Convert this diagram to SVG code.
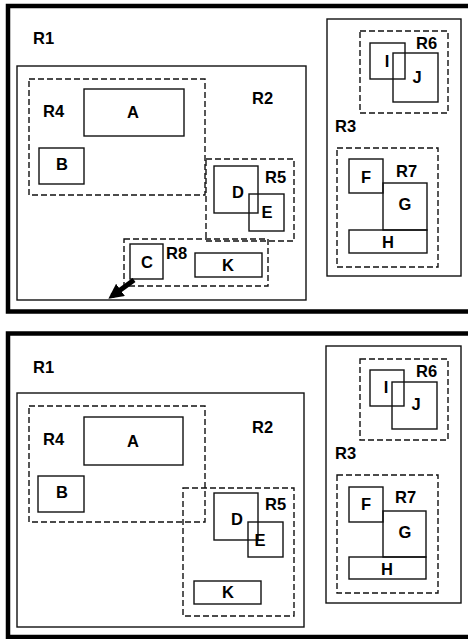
<svg xmlns="http://www.w3.org/2000/svg" width="468" height="639" viewBox="0 0 468 639">
<defs>
<style>
.frame{fill:none;stroke:#000;stroke-width:4.5}
.box{fill:none;stroke:#111;stroke-width:1.4}
.dash{fill:none;stroke:#111;stroke-width:1.4;stroke-dasharray:6 3}
.lbl{font-family:"Liberation Sans","DejaVu Sans",sans-serif;font-weight:bold;font-size:16.5px;fill:#000}
.c{text-anchor:middle}
</style>
<marker id="ah" viewBox="0 0 10 10" refX="7" refY="5" markerWidth="3" markerHeight="3" orient="auto" markerUnits="strokeWidth">
<path d="M0,0 L10,5 L0,10 Z" fill="#000"/>
</marker>
</defs>
<rect width="468" height="639" fill="#fff"/>

<!-- Top panel -->
<g id="top-panel">
<path class="frame" d="M470 6 H8 V311.5 H470"/>
<g id="t-R1"><text class="lbl" x="33" y="44">R1</text></g>
<g id="t-R2"><rect class="box" x="17" y="66" width="289" height="234"/><text class="lbl" x="252" y="104">R2</text></g>
<g id="t-R4"><rect class="dash" x="29" y="79" width="176" height="116"/><text class="lbl" x="43" y="117">R4</text></g>
<g id="t-A"><rect class="box" x="84" y="89" width="100" height="47"/><text class="lbl c" x="133" y="118">A</text></g>
<g id="t-B"><rect class="box" x="39" y="148" width="45" height="36"/><text class="lbl c" x="62" y="170">B</text></g>
<g id="t-R5"><rect class="dash" x="206" y="159" width="88" height="82"/><text class="lbl" x="265" y="183">R5</text></g>
<g id="t-D"><rect class="box" x="214" y="166" width="44" height="47"/><text class="lbl c" x="238" y="198">D</text></g>
<g id="t-E"><rect class="box" x="249" y="194" width="35" height="37"/><text class="lbl c" x="267" y="218">E</text></g>
<g id="t-R8"><rect class="dash" x="124" y="239" width="144" height="47"/><text class="lbl" x="166" y="259">R8</text></g>
<g id="t-C"><rect class="box" x="130" y="244" width="33" height="35"/><text class="lbl c" x="147" y="268">C</text></g>
<g id="t-K"><rect class="box" x="195" y="253" width="67" height="24"/><text class="lbl c" x="228" y="271">K</text></g>
<g id="t-R3"><rect class="box" x="327" y="19" width="134" height="257"/><text class="lbl" x="335" y="132">R3</text></g>
<g id="t-R6"><rect class="dash" x="360" y="31" width="88" height="82"/><text class="lbl" x="416" y="49">R6</text></g>
<g id="t-I"><rect class="box" x="370" y="43" width="35" height="36"/><text class="lbl c" x="387" y="67">I</text></g>
<g id="t-J"><rect class="box" x="393" y="53" width="45" height="49"/><text class="lbl c" x="417" y="83">J</text></g>
<g id="t-R7"><rect class="dash" x="337" y="148" width="101" height="119"/><text class="lbl" x="396" y="177">R7</text></g>
<g id="t-F"><rect class="box" x="349" y="159" width="34" height="34"/><text class="lbl c" x="366" y="183">F</text></g>
<g id="t-G"><rect class="box" x="383" y="183" width="44" height="47"/><text class="lbl c" x="405" y="210">G</text></g>
<g id="t-H"><rect class="box" x="349" y="230" width="78" height="23"/><text class="lbl c" x="388" y="248">H</text></g>
</g>

<g id="connectors">
<line x1="134" y1="280" x2="112" y2="296" stroke="#000" stroke-width="5" marker-end="url(#ah)"/>
</g>

<!-- Bottom panel -->
<g id="bottom-panel">
<path class="frame" d="M470 333.5 H8 V637 H470"/>
<g id="b-R1"><text class="lbl" x="33" y="373">R1</text></g>
<g id="b-R2"><rect class="box" x="17" y="393" width="287" height="234"/><text class="lbl" x="252" y="433">R2</text></g>
<g id="b-R4"><rect class="dash" x="29" y="406" width="176" height="116"/><text class="lbl" x="43" y="445">R4</text></g>
<g id="b-A"><rect class="box" x="84" y="417" width="99" height="48"/><text class="lbl c" x="133" y="447">A</text></g>
<g id="b-B"><rect class="box" x="38" y="476" width="46" height="36"/><text class="lbl c" x="62" y="498">B</text></g>
<g id="b-R5"><rect class="dash" x="183" y="488" width="111" height="128"/><text class="lbl" x="265" y="510">R5</text></g>
<g id="b-D"><rect class="box" x="214" y="493" width="44" height="47"/><text class="lbl c" x="237" y="525">D</text></g>
<g id="b-E"><rect class="box" x="248" y="522" width="35" height="35"/><text class="lbl c" x="260" y="546">E</text></g>
<g id="b-K"><rect class="box" x="194" y="581" width="67" height="23"/><text class="lbl c" x="228" y="598">K</text></g>
<g id="b-R3"><rect class="box" x="326" y="346" width="135" height="257"/><text class="lbl" x="335" y="459">R3</text></g>
<g id="b-R6"><rect class="dash" x="360" y="359" width="88" height="81"/><text class="lbl" x="416" y="377">R6</text></g>
<g id="b-I"><rect class="box" x="370" y="370" width="34" height="36"/><text class="lbl c" x="386" y="393">I</text></g>
<g id="b-J"><rect class="box" x="392" y="382" width="45" height="47"/><text class="lbl c" x="416" y="410">J</text></g>
<g id="b-R7"><rect class="dash" x="337" y="475" width="101" height="118"/><text class="lbl" x="395" y="503">R7</text></g>
<g id="b-F"><rect class="box" x="349" y="487" width="34" height="35"/><text class="lbl c" x="366" y="510">F</text></g>
<g id="b-G"><rect class="box" x="383" y="511" width="43" height="46"/><text class="lbl c" x="405" y="538">G</text></g>
<g id="b-H"><rect class="box" x="349" y="557" width="77" height="22"/><text class="lbl c" x="387" y="575">H</text></g>
</g>
</svg>
